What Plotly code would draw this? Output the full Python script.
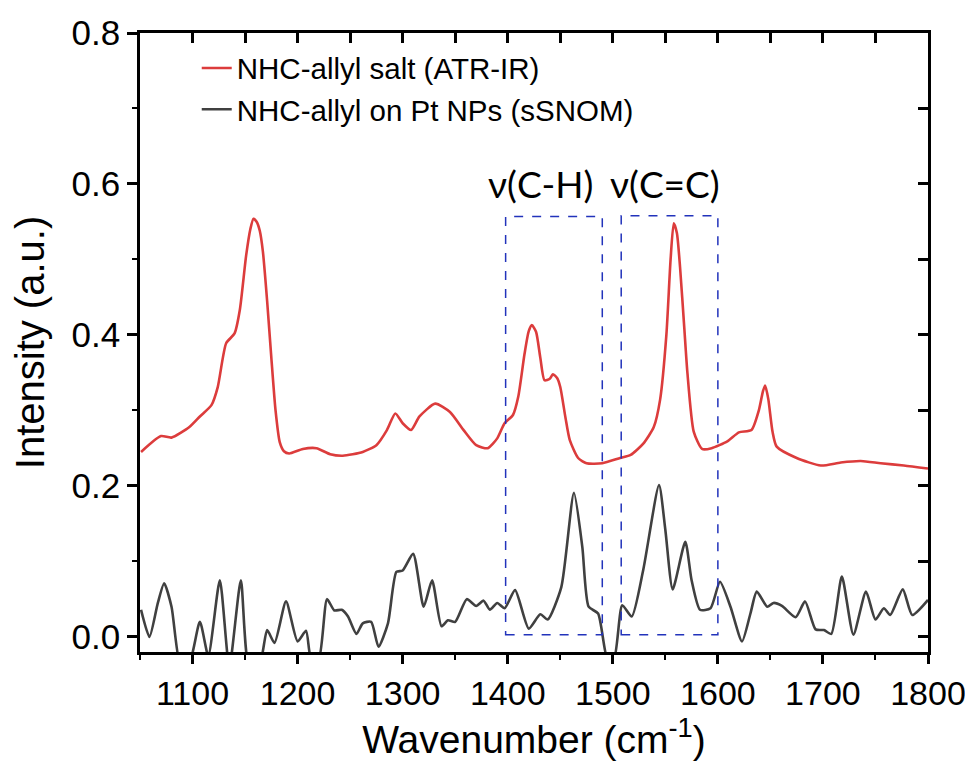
import plotly.graph_objects as go

# ---------------- data ----------------
atr_x = [1051, 1070, 1080, 1097, 1107, 1118, 1124, 1132, 1140, 1145, 1151, 1155, 1158, 1161, 1164,
         1167, 1171, 1175, 1179, 1183, 1187, 1192, 1205, 1218, 1231, 1243, 1262, 1275, 1285, 1293,
         1300, 1308, 1316, 1331, 1345, 1358, 1370, 1381, 1390, 1397, 1405, 1410, 1416, 1420, 1423,
         1427, 1431, 1435, 1440, 1443, 1447, 1450, 1455, 1459, 1467, 1475, 1490, 1507, 1517, 1529,
         1539, 1545, 1551, 1555, 1558, 1561, 1564, 1568, 1571, 1577, 1585, 1594, 1609, 1620, 1632,
         1639, 1643, 1645, 1648, 1652, 1656, 1675, 1698, 1717, 1736, 1755, 1777, 1800]
atr_y = [0.245, 0.266, 0.264, 0.278, 0.292, 0.307, 0.331, 0.389, 0.402, 0.433, 0.505, 0.540, 0.554,
         0.550, 0.538, 0.510, 0.445, 0.370, 0.300, 0.258, 0.246, 0.243, 0.249, 0.250, 0.242, 0.240,
         0.245, 0.254, 0.274, 0.296, 0.283, 0.274, 0.292, 0.309, 0.298, 0.274, 0.254, 0.250, 0.263,
         0.283, 0.294, 0.318, 0.375, 0.405, 0.413, 0.404, 0.370, 0.340, 0.342, 0.348, 0.343, 0.331,
         0.290, 0.261, 0.237, 0.230, 0.230, 0.237, 0.241, 0.256, 0.278, 0.314, 0.400, 0.500, 0.548,
         0.535, 0.490, 0.410, 0.350, 0.272, 0.249, 0.250, 0.259, 0.271, 0.274, 0.300, 0.326, 0.333,
         0.315, 0.272, 0.252, 0.237, 0.227, 0.231, 0.233, 0.230, 0.227, 0.223]

snom_x = [1051, 1059, 1067, 1073, 1080, 1089, 1097, 1107, 1115, 1126, 1135, 1146, 1154, 1164, 1171,
          1178, 1189, 1200, 1208, 1213, 1220, 1228, 1235, 1242, 1248, 1256, 1262, 1270, 1277, 1286,
          1294, 1300, 1310, 1320, 1328, 1337, 1343, 1350, 1361, 1370, 1377, 1383, 1390, 1397, 1407,
          1420, 1431, 1438, 1451, 1463, 1471, 1477, 1486, 1495, 1501, 1509, 1518, 1529, 1544, 1550,
          1557, 1569, 1575, 1583, 1593, 1602, 1612, 1623, 1631, 1637, 1647, 1653, 1661, 1674, 1683,
          1693, 1701, 1708, 1718, 1729, 1741, 1750, 1758, 1764, 1776, 1785, 1800]
snom_y = [0.036, 0.000, 0.045, 0.071, 0.040, -0.040, -0.035, 0.020, -0.025, 0.075, -0.040, 0.075,
          -0.040, -0.035, 0.009, -0.008, 0.047, -0.006, 0.008, -0.030, -0.030, 0.050, 0.035, 0.036,
          0.027, 0.004, 0.018, 0.020, -0.013, 0.018, 0.086, 0.088, 0.110, 0.040, 0.075, 0.014, 0.022,
          0.020, 0.050, 0.041, 0.048, 0.036, 0.045, 0.038, 0.062, 0.011, 0.030, 0.023, 0.066, 0.191,
          0.119, 0.040, 0.031, -0.030, -0.030, 0.042, 0.027, 0.089, 0.201, 0.142, 0.063, 0.126, 0.075,
          0.036, 0.038, 0.073, 0.040, -0.006, 0.031, 0.060, 0.040, 0.045, 0.041, 0.026, 0.047, 0.010,
          0.009, 0.004, 0.080, 0.003, 0.060, 0.023, 0.038, 0.029, 0.063, 0.029, 0.049]

series_names = ["NHC-allyl salt (ATR-IR)", "NHC-allyl on Pt NPs (sSNOM)"]
band_labels = ["ν(C-H)", "ν(C=C)"]
band_label_x = [1431, 1550]
band_label_y = [0.600, 0.600]
band_x0 = [1398, 1508]
band_x1 = [1490, 1600]
band_y0 = [0.003, 0.003]
band_y1 = [0.557, 0.558]

x_range = [1050, 1800]
y_range = [-0.02, 0.8]

RED = "#dc3c3c"
GRAY = "#404040"
BLUE = "#2233bb"
FONT = "Liberation Sans, Arial, sans-serif"

fig = go.Figure()
fig.add_trace(go.Scatter(x=atr_x, y=atr_y, mode="lines", name=series_names[0],
                         line=dict(color=RED, width=2.6, shape="spline", smoothing=0.6)))
fig.add_trace(go.Scatter(x=snom_x, y=snom_y, mode="lines", name=series_names[1],
                         line=dict(color=GRAY, width=2.6, shape="spline", smoothing=0.6)))
# invisible trace to activate the mirrored (inward-tick) axes
fig.add_trace(go.Scatter(x=x_range, y=y_range, xaxis="x2", yaxis="y2", mode="lines",
                         line=dict(width=0), opacity=0, showlegend=False, hoverinfo="skip"))

for i in range(2):
    fig.add_shape(type="rect", xref="x", yref="y", x0=band_x0[i], x1=band_x1[i],
                  y0=band_y0[i], y1=band_y1[i], line=dict(color=BLUE, width=1.5, dash="dash"))
    fig.add_annotation(x=band_label_x[i], y=band_label_y[i], xref="x", yref="y", text=band_labels[i],
                       showarrow=False, font=dict(family="Lato, Open Sans, sans-serif", size=37, color="black"))

fig.update_layout(
    width=965, height=755,
    margin=dict(l=132, r=45, t=25, b=111, autoexpand=False),
    paper_bgcolor="white", plot_bgcolor="white",
    font=dict(family=FONT, color="black"),
    showlegend=True,
    legend=dict(x=0.072, y=0.985, xanchor="left", yanchor="top", bgcolor="rgba(0,0,0,0)",
                font=dict(size=29.5, family=FONT), tracegroupgap=0),
    xaxis=dict(range=x_range, showline=True, linecolor="black", linewidth=2.5, mirror=False,
               ticks="outside", ticklen=9, tickwidth=2.5, tickcolor="black", dtick=100, tick0=1000,
               minor=dict(ticks="outside", ticklen=5, tickwidth=2, tickcolor="black", dtick=50),
               showgrid=False, zeroline=False, tickfont=dict(size=34), automargin=False,
               title=dict(text="Wavenumber (cm<sup>-1</sup>)", font=dict(size=39), standoff=12)),
    yaxis=dict(range=y_range, showline=True, linecolor="black", linewidth=2.5,
               ticks="outside", ticklen=10, tickwidth=2.5, tickcolor="black", dtick=0.2, tick0=0,
               tickformat=".1f", automargin=False,
               minor=dict(ticks="outside", ticklen=5, tickwidth=2, tickcolor="black", dtick=0.1),
               showgrid=False, zeroline=False, tickfont=dict(size=35),
               title=dict(text="Intensity (a.u.)", font=dict(size=40), standoff=22)),
    xaxis2=dict(range=x_range, overlaying="x", side="top", anchor="y2", showline=True, linecolor="black",
                linewidth=2.5, ticks="inside", ticklen=10, tickwidth=2.5, tickcolor="black",
                dtick=50, tick0=1000, showticklabels=False, showgrid=False, zeroline=False),
    yaxis2=dict(range=y_range, overlaying="y", side="right", anchor="x2", showline=True, linecolor="black",
                linewidth=2.5, ticks="inside", ticklen=10, tickwidth=2.5, tickcolor="black",
                dtick=0.1, tick0=0, showticklabels=False, showgrid=False, zeroline=False),
)

fig.write_html("out.html")
